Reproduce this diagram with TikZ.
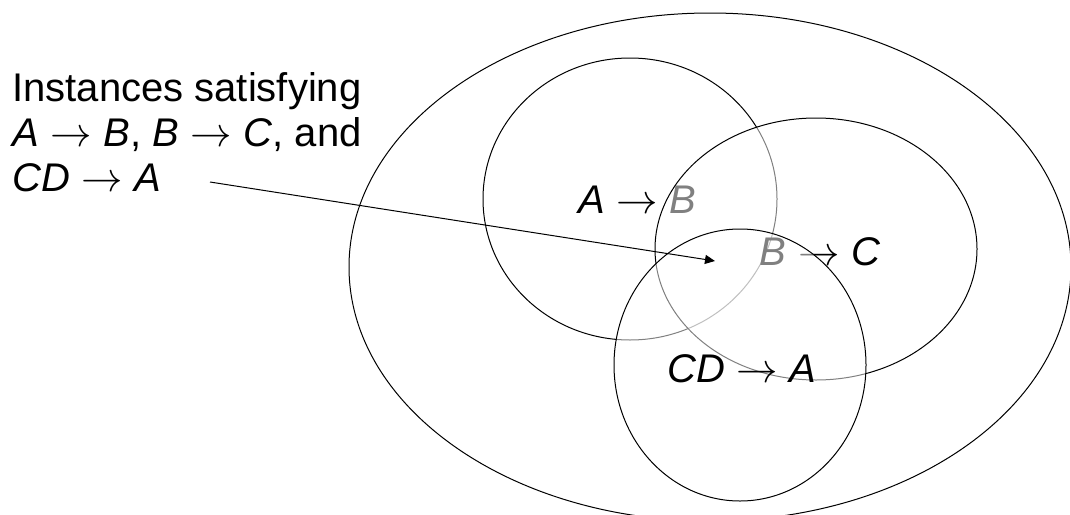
\documentclass[tikz,border=0pt]{standalone}
\usepackage{fontspec}
\setmainfont{Liberation Sans}
\usetikzlibrary{positioning, arrows.meta, shapes.geometric}

\begin{document}
\begin{tikzpicture}[
    x=0.5pt, y=-0.5pt,
    set/.style={ellipse, draw, line width=0.5pt, inner sep=0pt},
    veil/.style={fill=white, fill opacity=0.5},
    fd/.style={font=\fontsize{20}{22.5}\selectfont, inner sep=0pt},
    pointer/.style={-{Triangle[length=5pt, width=4.5pt]}, line width=0.5pt}
]
\useasboundingbox (0,0) rectangle (1070,514);

\node[set, minimum width=361pt, minimum height=254pt] (outer) at (710,267) {};

\node[set, minimum width=147pt, minimum height=141pt] (ab) at (630,199) {};
\node[fd, anchor=base] (ablbl) at (637,213) {\textit{A}${}\rightarrow{}$\textit{B}};

\node[set, veil, minimum width=161pt, minimum height=131pt] (bc) at (816,249) {};
\node[fd, anchor=base] (bclbl) at (820,265) {\textit{B}${}\rightarrow{}$\textit{C}};

\node[set, veil, minimum width=126pt, minimum height=136pt] (cda) at (740,365) {};
\node[fd, anchor=base] (cdalbl) at (742,382) {\textit{CD}${}\rightarrow{}$\textit{A}};

\node[fd, anchor=north west, align=left] (inst) at (12,72)
    {Instances satisfying\\
     \textit{A}${}\rightarrow{}$\textit{B}, \textit{B}${}\rightarrow{}$\textit{C}, and\\
     \textit{CD}${}\rightarrow{}$\textit{A}};

\coordinate (tail) at (210,182);
\coordinate (tip) at (715,261);
\draw[pointer] (tail) -- (tip);

\end{tikzpicture}
\end{document}
